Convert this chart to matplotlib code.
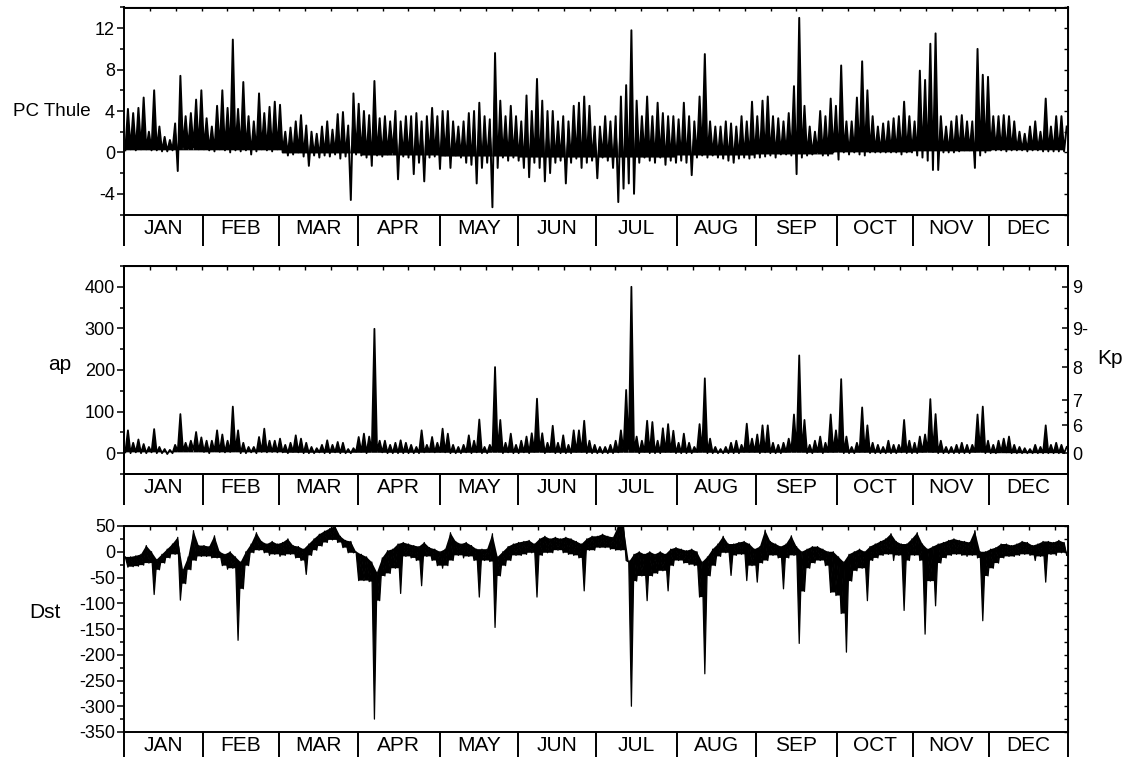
import numpy as np
import matplotlib.pyplot as plt
from matplotlib.ticker import MultipleLocator
from matplotlib.collections import PolyCollection

plt.rcParams['font.family'] = ['Liberation Sans', 'DejaVu Sans']
plt.rcParams['axes.unicode_minus'] = False

months = ['JAN', 'FEB', 'MAR', 'APR', 'MAY', 'JUN', 'JUL', 'AUG', 'SEP', 'OCT', 'NOV', 'DEC']
month_edges = [0, 30.5, 60, 90.5, 122, 152.5, 182.5, 214, 244.5, 275.5, 305, 334.5, 365]

# envelope per ~2 day bin (15 bins per month row): upper / lower values
pc_hi = [4.2, 3.8, 4.3, 5.3, 2.0, 6.0, 2.5, 1.5, 1.2, 2.8, 7.4, 3.5, 3.8, 5.1, 6.0,
         3.3, 2.5, 4.5, 6.0, 4.3, 10.9, 4.2, 6.8, 3.5, 3.0, 5.7, 3.8, 4.4, 4.9, 4.6,
         2.0, 2.4, 3.0, 3.6, 2.6, 2.0, 1.8, 2.5, 3.0, 2.2, 3.7, 3.9, 2.6, 5.7, 4.7,
         4.0, 3.6, 6.9, 3.3, 3.5, 3.0, 4.0, 3.0, 3.5, 3.5, 3.8, 3.0, 3.5, 4.3, 3.5,
         4.0, 4.0, 3.0, 2.5, 3.0, 3.8, 4.0, 4.8, 3.5, 3.2, 9.6, 5.0, 3.5, 4.5, 3.5,
         3.0, 5.5, 4.0, 7.1, 5.0, 4.0, 4.0, 3.0, 3.5, 3.0, 4.5, 4.8, 5.4, 4.5, 2.5,
         2.5, 3.5, 3.0, 3.5, 5.4, 6.5, 11.8, 5.0, 3.5, 5.4, 3.5, 4.8, 3.8, 3.5, 3.5,
         3.2, 4.8, 3.5, 3.0, 5.4, 9.5, 3.0, 2.5, 2.5, 3.0, 2.8, 2.5, 3.5, 3.0, 4.9,
         3.5, 5.0, 5.4, 3.5, 3.3, 3.0, 3.8, 6.4, 13.0, 4.5, 2.5, 2.0, 4.0, 3.5, 5.2,
         4.5, 8.4, 3.0, 3.0, 5.3, 8.8, 6.0, 3.5, 2.5, 2.8, 3.0, 3.3, 3.5, 4.9, 3.5,
         3.0, 7.9, 7.0, 10.5, 11.5, 3.5, 2.5, 3.0, 3.5, 3.6, 3.0, 3.0, 10.0, 7.5, 7.3,
         3.5, 3.5, 3.6, 3.5, 3.0, 2.0, 1.8, 2.5, 3.0, 2.0, 5.2, 2.5, 3.5, 3.5, 2.5]
pc_lo = [0.2, 0.3, 0.2, 0.3, 0.3, 0.2, 0.2, 0.1, 0.1, 0.2, -1.8, 0.5, 0.4, 0.5, 0.3,
         0.3, 0.2, 0.1, 0.3, 0.2, 0.0, 0.2, 0.1, 0.2, -0.2, 0.1, 0.3, 0.2, 0.1, 0.3,
         0.0, -0.3, -0.2, 0.0, -0.4, -1.3, -0.3, -0.5, -0.3, -0.4, -0.2, -0.6, -0.4, -4.6, -0.2,
         -0.3, -0.5, -1.3, -0.3, -0.4, -0.2, 0.0, -2.6, -0.4, -0.5, -2.1, -1.0, -2.8, -0.5, -0.4,
         -1.6, -0.3, -1.5, -0.3, -0.5, -1.0, -1.2, -3.0, -1.5, -1.0, -5.3, -1.5, -0.5, -0.8, -0.5,
         -0.8, -1.5, -2.4, -1.0, -1.5, -2.8, -2.0, -1.0, -0.8, -3.0, -1.0, -0.6, -1.5, -1.0, -0.8,
         -2.5, -0.5, -0.8, -1.5, -4.8, -3.5, -3.0, -4.0, -1.0, -0.5, -0.8, -1.0, -0.5, -1.2, -0.8,
         -1.0, -0.8, -1.0, -2.2, -0.5, -0.3, -0.5, -0.3, -0.5, -0.6, -0.8, -1.0, -0.6, -0.5, -0.6,
         -0.5, -0.5, -0.4, -0.3, -0.5, -0.2, -0.2, -0.3, -2.1, -0.5, -0.3, -0.2, 0.0, -0.3, -0.3,
         0.0, -0.7, 0.0, -0.2, 0.0, -0.2, -0.3, 0.0, 0.0, 0.0, 0.0, 0.0, 0.0, -0.2, 0.0,
         0.0, -0.3, -0.5, -0.8, -1.7, -1.7, 0.0, 0.0, 0.0, 0.1, 0.2, 0.2, -1.5, -0.3, 0.0,
         0.2, 0.2, 0.2, 0.1, 0.2, 0.2, 0.2, 0.1, 0.2, 0.2, 0.1, 0.1, 0.1, 0.1, 0.1]
# bottom of the dense black mass, per month
pc_base = [0.2, 0.2, -0.1, -0.3, -0.4, -0.5, -0.5, -0.3, -0.2, 0.0, 0.1, 0.2]

ap_hi = [55, 25, 33, 22, 15, 58, 15, 10, 8, 20, 94, 25, 30, 51, 38,
         30, 30, 55, 45, 30, 112, 55, 25, 15, 15, 39, 59, 30, 30, 35,
         20, 25, 43, 35, 25, 15, 12, 20, 31, 20, 27, 25, 10, 12, 39,
         47, 40, 299, 30, 30, 20, 25, 31, 25, 20, 15, 55, 20, 39, 25,
         59, 47, 20, 15, 20, 43, 30, 81, 15, 20, 207, 80, 25, 47, 20,
         30, 40, 48, 131, 48, 25, 66, 25, 43, 20, 55, 55, 78, 30, 20,
         15, 15, 20, 30, 55, 152, 400, 40, 30, 78, 75, 30, 60, 70, 54,
         25, 47, 25, 15, 70, 180, 35, 15, 10, 15, 25, 30, 20, 71, 35,
         45, 67, 67, 25, 20, 25, 35, 93, 235, 80, 20, 30, 40, 25, 93,
         55, 178, 40, 15, 25, 110, 67, 25, 20, 15, 30, 20, 20, 80, 30,
         25, 40, 45, 130, 94, 30, 15, 15, 20, 25, 20, 20, 93, 112, 30,
         20, 30, 35, 40, 20, 15, 12, 10, 20, 15, 67, 20, 25, 20, 15]
ap_lo = [2, 0, 2, 0, 0, 2, 0, 0, -2, 0, 5, 5, 5, 8, 5,
         3, 0, 5, 3, 2, 3, 5, 0, 0, 2, 0, 3, 2, 3, 2,
         2, 0, 3, 2, 0, 0, 0, 2, 0, 0, 2, 0, 0, 0, 3,
         3, 0, 5, 5, 2, 0, 0, 0, 0, 0, 0, 0, 2, 3, 2,
         3, 2, 0, 0, 0, 2, 0, 2, 0, 0, 5, 5, 0, 2, 0,
         0, 2, 0, 3, 5, 0, 3, 0, 0, 0, 0, 3, 3, 0, 0,
         0, 0, 0, 0, 2, 5, 10, 5, 0, 3, 0, 0, 0, 3, 3,
         0, 0, 0, 0, 3, 5, 0, 0, 0, 0, 0, 0, 0, 3, 3,
         3, 0, 2, 0, 0, 0, 3, 5, 5, 5, 0, 0, 3, 0, 3,
         3, 5, 0, 0, 0, 3, 3, 0, 0, 0, 0, 0, 0, 2, 0,
         0, 0, 3, 5, 3, 0, 0, 0, 0, 0, 0, 0, 3, 5, 0,
         0, 0, 3, 2, 0, 0, 0, 0, 0, 0, 0, 0, 0, 0, 0]
ap_base = [2, 2, 1, 1, 1, 1, 1, 1, 1, 1, 1, 0]

dst_hi = [-10, -10, -8, -5, 12, 0, -15, -5, 5, 15, 28, -35, -10, 41, 12,
          12, 10, 31, 0, -5, 0, -10, -20, 0, 15, 37, 20, 15, 20, 15,
          18, 25, 12, 10, 5, 15, 25, 34, 40, 45, 50, 30, 22, 20, 0,
          -5, -10, -20, -40, -12, 2, 5, 15, 18, 15, 12, 10, 18, 8, 5,
          0, 5, 37, 20, 15, 18, 12, 5, 5, 5, 35, -10, 0, 10, 15,
          18, 20, 22, 15, 25, 30, 25, 28, 25, 28, 25, 20, 15, 25, 30,
          30, 34, 30, 28, 50, 50, -20, -5, 0, -5, 0, -5, 0, -5, 5,
          8, 5, 2, 5, 0, -20, -10, 5, 15, 30, 15, 15, 18, 20, 15,
          5, 10, 42, 20, 15, 10, 15, 31, 10, 0, 5, 10, 10, 5, 0,
          0, -10, -20, -5, 0, 5, 0, 10, 15, 20, 25, 35, 20, 15, 15,
          25, 37, 15, 5, 10, 15, 18, 22, 25, 22, 20, 18, 41, 0, 0,
          5, 8, 15, 15, 12, 15, 20, 18, 12, 15, 20, 20, 18, 22, 18]
dst_lo = [-30, -29, -28, -26, -22, -83, -35, -22, -12, -5, -94, -62, -35, -17, -9,
          -9, -12, -12, -27, -34, -32, -172, -72, -27, -2, 3, -2, -7, -5, -9,
          -7, -5, -12, -17, -44, -7, 3, 11, 18, 23, 18, 8, -2, -2, -56,
          -56, -58, -325, -95, -47, -42, -32, -81, -9, -12, -17, -66, -9, -17, -27,
          -32, -27, -17, -7, -12, -9, -17, -88, -17, -19, -147, -47, -27, -17, -7,
          -7, -5, -2, -88, -7, -2, -2, 3, -2, -5, -7, -12, -76, 3, 3,
          8, 8, 5, 3, 3, -17, -300, -57, -47, -95, -47, -42, -37, -76, -27,
          -17, -22, -25, -27, -88, -237, -47, -27, -9, -2, -46, -7, -5, -56, -27,
          -59, -22, -17, -7, -12, -72, -12, -7, -178, -77, -32, -22, -17, -27, -79,
          -85, -120, -195, -57, -37, -32, -95, -17, -12, -7, -5, -17, -7, -114, -17,
          -7, -17, -160, -57, -105, -22, -12, -7, -5, -7, -9, -7, -12, -134, -47,
          -32, -22, -12, -9, -9, -7, -5, -7, -17, -9, -59, -5, -7, -2, -7]

kp_pos = [0, 67, 127, 207, 300, 400]
kp_labels = ['0', '6', '7', '8', '9-', '9']

W, H = 1132, 757
fig = plt.figure(figsize=(W / 100, H / 100), dpi=100)


def axes_px(left, top, right, bottom):
    return fig.add_axes([left / W, 1 - bottom / H, (right - left) / W, (bottom - top) / H])


def zig(first, second):
    n = len(first)
    w = 365.0 / n
    i = np.arange(n)
    x = np.empty(2 * n)
    y = np.empty(2 * n)
    x[0::2] = (i + 0.25) * w
    x[1::2] = (i + 0.75) * w
    y[0::2] = first
    y[1::2] = second
    return x, y


def teeth(ax, lo, hi, base, lw):
    # dense trace: filled teeth standing on the monthly base level, plus the outline
    x, y = zig(lo, hi)
    polys = []
    for i in range(len(lo) - 1):
        b = base[i // 15]
        polys.append([(x[2 * i], b), (x[2 * i + 1], hi[i]), (x[2 * i + 2], b)])
    ax.add_collection(PolyCollection(polys, facecolor='black', edgecolor='none'))
    ax.plot(x, y, color='black', lw=lw)


def band(ax, lo, hi):
    # thick trace: solid between highs and lows, storm dips as single wedges
    x, y = zig(hi, lo)
    polys = []
    for i in range(len(lo) - 1):
        polys.append([(x[2 * i], hi[i]), (x[2 * i + 1], lo[i]), (x[2 * i + 2], hi[i + 1])])
        b = max(lo[i], lo[i + 1])
        polys.append([(x[2 * i + 1], b), (x[2 * i + 2], hi[i + 1]), (x[2 * i + 3], b)])
    ax.add_collection(PolyCollection(polys, facecolor='black', edgecolor='none'))
    ax.plot(x, y, color='black', lw=0.9)


def style(ax, ylim, major, minor, right_ticks=None):
    ax.set_xlim(0, 365)
    ax.set_ylim(*ylim)
    ax.yaxis.set_major_locator(MultipleLocator(major))
    ax.yaxis.set_minor_locator(MultipleLocator(minor))
    ax.tick_params(axis='y', which='major', direction='out', length=5, width=1.1,
                   labelsize=13, pad=1.5)
    ax.tick_params(axis='y', which='minor', direction='out', length=3, width=1.1)
    ax.set_xticks(month_edges)
    ax.set_xticklabels([])
    ax.tick_params(axis='x', direction='out', length=22, width=1.4)
    for s in ax.spines.values():
        s.set_linewidth(1.4)
    for k, m in enumerate(months):
        ax.annotate(m, xy=((month_edges[k] + month_edges[k + 1]) / 2, 0),
                    xycoords=('data', 'axes fraction'), xytext=(0, -10),
                    textcoords='offset points', ha='center', va='center', fontsize=15)
    top = ax.secondary_xaxis('top')
    top.set_xticks(np.arange(10, 365, 10))
    top.set_xticklabels([])
    top.tick_params(direction='in', length=3, width=1)
    if right_ticks is not None:
        r = ax.secondary_yaxis('right')
        r.set_yticks(right_ticks)
        r.set_yticklabels([])
        r.tick_params(direction='in', length=3, width=1)


# PC Thule
ax1 = axes_px(124, 7.5, 1068, 214.5)
teeth(ax1, pc_lo, pc_hi, pc_base, 1.4)
style(ax1, (-6, 14), 4, 2, np.arange(-6, 14.1, 2))

# ap / Kp
ax2 = axes_px(124, 266, 1068, 474)
teeth(ax2, ap_lo, ap_hi, ap_base, 1.3)
style(ax2, (-50, 450), 100, 50)
axk = ax2.twinx()
axk.set_ylim(-50, 450)
axk.set_yticks(kp_pos)
axk.set_yticklabels(kp_labels)
axk.set_yticks([100, 250, 350], minor=True)
axk.tick_params(axis='y', which='major', direction='in', length=4, width=1.1,
                labelsize=13, pad=3)
axk.tick_params(axis='y', which='minor', direction='in', length=3, width=1)
for s in axk.spines.values():
    s.set_linewidth(1.4)

# Dst
ax3 = axes_px(124, 526, 1068, 732)
band(ax3, dst_lo, dst_hi)
style(ax3, (-350, 50), 50, 25, np.arange(-350, 50.1, 25))

fig.text(52 / W, 1 - 111 / H, 'PC Thule', fontsize=13.5, ha='center', va='center')
fig.text(60 / W, 1 - 365 / H, 'ap', fontsize=15, ha='center', va='center')
fig.text(1110 / W, 1 - 358 / H, 'Kp', fontsize=15, ha='center', va='center')
fig.text(45 / W, 1 - 613 / H, 'Dst', fontsize=15, ha='center', va='center')

fig.savefig('out.png', dpi=100)
